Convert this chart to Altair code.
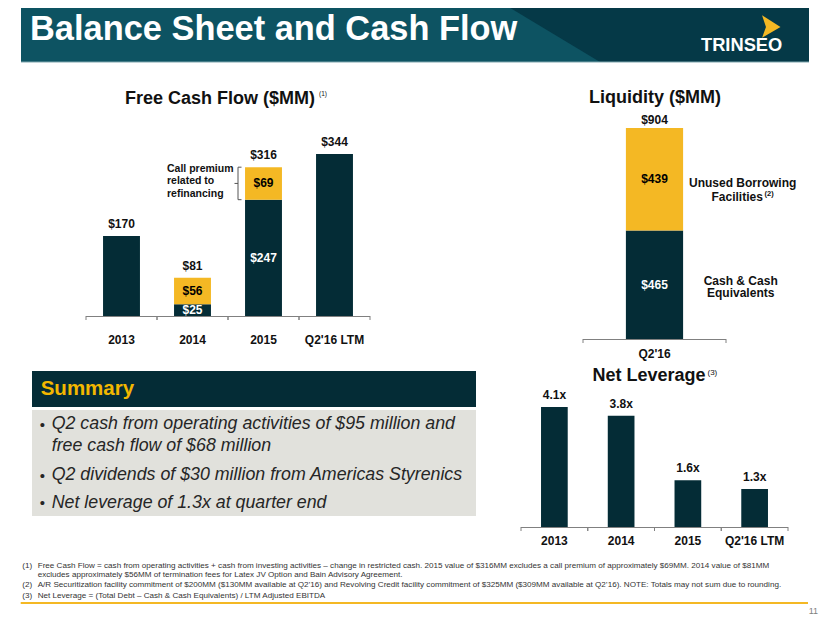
import altair as alt
import pandas as pd

# ---------------- data ----------------
fcf_years = ["2013", "2014", "2015", "Q2'16 LTM"]
fcf_core = [170, 25, 247, 344]        # free cash flow as reported
fcf_excluded = [0, 56, 69, 0]         # 2014 termination fees, 2015 call premium

liq_period = ["Q2'16"]
liq_cash = [465]
liq_unused = [439]

lev_years = ["2013", "2014", "2015", "Q2'16 LTM"]
lev_values = [4.1, 3.8, 1.6, 1.3]

slide_title = "Balance Sheet and Cash Flow"
fcf_title = "Free Cash Flow ($MM)"
liq_title = "Liquidity ($MM)"
lev_title = "Net Leverage"
annot_lines = ["Call premium", "related to", "refinancing"]
unused_lines = ["Unused Borrowing", "Facilities"]
cash_lines = ["Cash & Cash", "Equivalents"]
summary_title = "Summary"
summary_bullets = [
    ["Q2 cash from operating activities of $95 million and", "free cash flow of $68 million"],
    ["Q2 dividends of $30 million from Americas Styrenics"],
    ["Net leverage of 1.3x at quarter end"],
]
footnote_nums = ["(1)", "(2)", "(3)"]
footnote_lines = [
    ["Free Cash Flow = cash from operating activities + cash from investing activities \u2013 change in restricted cash. 2015 value of $316MM excludes a call premium of approximately $69MM.  2014 value of $81MM",
     "excludes approximately $56MM of termination fees for Latex JV Option and Bain Advisory Agreement."],
    ["A/R Securitization facility commitment of $200MM ($130MM available at Q2\u201916) and Revolving Credit facility commitment of $325MM ($309MM available at Q2\u201916).  NOTE:  Totals may not sum due to rounding."],
    ["Net Leverage = (Total Debt \u2013 Cash & Cash Equivalents) / LTM Adjusted EBITDA"],
]
page_number = "11"

# ---------------- style ----------------
W, H = 814, 607
FONT = "Liberation Sans"
INK = "#111111"
DARK = "#042c36"
GOLD = "#f4b824"
AXIS = "#808080"
BANNER_LIGHT = "#0d5362"
BANNER_DARK = "#053947"


def P(v):
    """page pixel -> chart pixel (page has an 8px margin)"""
    return v - 8


ONE = pd.DataFrame({"k": [0]})


def deco():
    return alt.Chart(ONE)


def rect(x1, x2, y1, y2, color):
    return deco().mark_rect(color=color).encode(
        x=alt.value(P(x1)), x2=alt.value(P(x2)), y=alt.value(P(y1)), y2=alt.value(P(y2)))


def rule(x1, x2, y1, y2, color, w=1):
    return deco().mark_rule(color=color, strokeWidth=w).encode(
        x=alt.value(P(x1)), x2=alt.value(P(x2)), y=alt.value(P(y1)), y2=alt.value(P(y2)))


def label(text, x, y, size=12, weight="bold", align="center", color=INK, style="normal", lh=None):
    kw = dict(text=text, font=FONT, fontSize=size, fontWeight=weight, align=align,
              baseline="middle", color=color, fontStyle=style)
    if lh:
        kw["lineHeight"] = lh
    return deco().mark_text(**kw).encode(x=alt.value(P(x)), y=alt.value(P(y)))


TXT = dict(font=FONT, fontSize=12, fontWeight="bold", color=INK, baseline="middle", align="center")

layers = []

# ---------------- banner ----------------
layers.append(rect(21, 809, 0, 62, BANNER_DARK))
layers.append(rect(21, 497, 0, 62, BANNER_LIGHT))
layers.append(deco().mark_point(shape="M0,-1 L3.323,1 L0,1 Z", filled=True, size=3844,
                                fill=BANNER_LIGHT, opacity=1, strokeWidth=0).encode(
    x=alt.value(P(497)), y=alt.value(P(31))))
layers.append(rule(21, 809, 62, 62, "#7fa6ae", 1))
layers.append(label(slide_title, 30, 29.8, size=34.4, align="left", color="white"))
layers.append(label("TRINSEO", 701, 46.2, size=18.3, align="left", color="white"))
layers.append(deco().mark_point(shape="M-0.8,-1 L0.85,0.05 L-0.8,1 L-0.45,0.05 Z", filled=True,
                                size=500, fill=GOLD, opacity=1, strokeWidth=0).encode(
    x=alt.value(P(771)), y=alt.value(P(26.5))))

# ---------------- Free cash flow ----------------
rows = []
for yr, c, e in zip(fcf_years, fcf_core, fcf_excluded):
    rows.append({"year": yr, "seg": "core", "order": 0, "value": c})
    if e:
        rows.append({"year": yr, "seg": "excluded", "order": 1, "value": e})
fcf_df = pd.DataFrame(rows)
fcf_years_df = pd.DataFrame({"year": fcf_years})

fcf_x = alt.Scale(type="band", domain=fcf_years, range=[P(86), P(370)], paddingInner=0, paddingOuter=0)
fcf_y = alt.Scale(type="linear", domain=[0, 344], range=[P(316), P(154)], nice=False, zero=True)
fx = alt.X("year:N", scale=fcf_x, axis=None)

fcf = (alt.Chart(fcf_df)
       .transform_stack(stack="value", groupby=["year"], as_=["v0", "v1"],
                        sort=[alt.SortField("order", "ascending")])
       .transform_joinaggregate(nseg="count()", groupby=["year"])
       .transform_calculate(mid="(datum.v0 + datum.v1) / 2", label="'$' + datum.value"))

layers.append(fcf.mark_bar(width=alt.RelativeBandSize(0.52)).encode(
    x=fx, y=alt.Y("v1:Q", scale=fcf_y, axis=None), y2="v0:Q",
    color=alt.Color("seg:N", scale=alt.Scale(domain=["core", "excluded"], range=[DARK, GOLD]), legend=None)))
layers.append(fcf.transform_filter("datum.nseg > 1").mark_text(**TXT).encode(
    x=fx, y=alt.Y("mid:Q", scale=fcf_y, axis=None), text="label:N",
    color=alt.Color("seg:N", scale=alt.Scale(domain=["core", "excluded"], range=["#ffffff", "#000000"]), legend=None)))
layers.append(alt.Chart(fcf_df).transform_aggregate(total="sum(value)", groupby=["year"])
              .transform_calculate(label="'$' + datum.total")
              .mark_text(dy=-12, **TXT).encode(
    x=fx, y=alt.Y("total:Q", scale=fcf_y, axis=None), text="label:N"))
layers.append(alt.Chart(fcf_years_df).mark_rect(color=AXIS).encode(
    x=fx, y=alt.value(P(316)), y2=alt.value(P(317))))
for bp in (0, 1):
    layers.append(alt.Chart(fcf_years_df).mark_rule(color=AXIS).encode(
        x=alt.X("year:N", scale=fcf_x, axis=None, bandPosition=bp),
        y=alt.value(P(316)), y2=alt.value(P(320))))
layers.append(alt.Chart(fcf_years_df).mark_text(**TXT).encode(
    x=fx, y=alt.value(P(340)), text="year:N"))
# bracket around the call premium
prem = fcf.transform_filter("datum.year == '2015' && datum.seg == 'excluded'")
BR = "#555555"
layers.append(prem.mark_rule(color=BR).encode(
    x=alt.value(P(238)), y=alt.Y("v1:Q", scale=fcf_y, axis=None), y2="v0:Q"))
for fld in ("v0", "v1"):
    layers.append(prem.mark_rule(color=BR).encode(
        x=alt.value(P(238)), x2=alt.value(P(241.5)), y=alt.Y(f"{fld}:Q", scale=fcf_y, axis=None)))
layers.append(prem.mark_rule(color=BR).encode(
    x=alt.value(P(234.5)), x2=alt.value(P(238)), y=alt.Y("mid:Q", scale=fcf_y, axis=None)))
layers.append(label(annot_lines, 167, 169, size=10.5, align="left", lh=12.3))
layers.append(label(fcf_title, 220, 99, size=18))
layers.append(label("(1)", 323, 94, size=6.5, weight="normal"))

# ---------------- Liquidity ----------------
liq_df = pd.DataFrame({
    "period": liq_period * 2,
    "seg": ["cash", "unused"],
    "order": [0, 1],
    "value": [liq_cash[0], liq_unused[0]],
})
liq_x = alt.Scale(type="band", domain=liq_period, range=[P(583), P(726)], paddingInner=0, paddingOuter=0)
liq_y = alt.Scale(type="linear", domain=[0, 904], range=[P(339), P(128)], nice=False, zero=True)
lx = alt.X("period:N", scale=liq_x, axis=None)
liq = (alt.Chart(liq_df)
       .transform_stack(stack="value", groupby=["period"], as_=["v0", "v1"],
                        sort=[alt.SortField("order", "ascending")])
       .transform_calculate(mid="(datum.v0 + datum.v1) / 2", label="'$' + datum.value"))
layers.append(liq.mark_bar(width=alt.RelativeBandSize(0.4)).encode(
    x=lx, y=alt.Y("v1:Q", scale=liq_y, axis=None), y2="v0:Q",
    color=alt.Color("seg:N", scale=alt.Scale(domain=["cash", "unused"], range=[DARK, GOLD]), legend=None)))
layers.append(liq.mark_text(**TXT).encode(
    x=lx, y=alt.Y("mid:Q", scale=liq_y, axis=None), text="label:N",
    color=alt.Color("seg:N", scale=alt.Scale(domain=["cash", "unused"], range=["#ffffff", "#000000"]), legend=None)))
layers.append(alt.Chart(liq_df).transform_aggregate(total="sum(value)", groupby=["period"])
              .transform_calculate(label="'$' + datum.total")
              .mark_text(dy=-8, **TXT).encode(
    x=lx, y=alt.Y("total:Q", scale=liq_y, axis=None), text="label:N"))
liq_p_df = pd.DataFrame({"period": liq_period})
layers.append(alt.Chart(liq_p_df).mark_rect(color=AXIS).encode(
    x=lx, y=alt.value(P(339)), y2=alt.value(P(340))))
for bp in (0, 1):
    layers.append(alt.Chart(liq_p_df).mark_rule(color=AXIS).encode(
        x=alt.X("period:N", scale=liq_x, axis=None, bandPosition=bp),
        y=alt.value(P(339)), y2=alt.value(P(343))))
layers.append(alt.Chart(liq_p_df).mark_text(**TXT).encode(
    x=lx, y=alt.value(P(354)), text="period:N"))
layers.append(label(liq_title, 655, 98, size=18))
layers.append(label(unused_lines[0], 742.7, 183.3, size=12))
layers.append(label(unused_lines[1], 711.5, 196.7, size=12, align="left"))
layers.append(label("(2)", 764.5, 194.3, size=7.5, align="left"))
layers.append(label(cash_lines, 740.7, 280.7, size=12, lh=12.7))

# ---------------- Net leverage ----------------
lev_df = pd.DataFrame({"year": lev_years, "value": lev_values})
lev_x = alt.Scale(type="band", domain=lev_years, range=[P(521), P(788)], paddingInner=0, paddingOuter=0)
lev_y = alt.Scale(type="linear", domain=[0, 4.1], range=[P(527), P(407)], nice=False, zero=True)
vx = alt.X("year:N", scale=lev_x, axis=None)
lev = alt.Chart(lev_df).transform_calculate(label="format(datum.value, '.1f') + 'x'")
layers.append(lev.mark_bar(width=alt.RelativeBandSize(0.4), color=DARK).encode(
    x=vx, y=alt.Y("value:Q", scale=lev_y, axis=None)))
layers.append(lev.mark_text(dy=-12, **TXT).encode(
    x=vx, y=alt.Y("value:Q", scale=lev_y, axis=None), text="label:N"))
layers.append(alt.Chart(lev_df).mark_rect(color=AXIS).encode(
    x=vx, y=alt.value(P(527)), y2=alt.value(P(528))))
for bp in (0, 1):
    layers.append(alt.Chart(lev_df).mark_rule(color=AXIS).encode(
        x=alt.X("year:N", scale=lev_x, axis=None, bandPosition=bp),
        y=alt.value(P(527)), y2=alt.value(P(531))))
layers.append(alt.Chart(lev_df).mark_text(**TXT).encode(
    x=vx, y=alt.value(P(541)), text="year:N"))
layers.append(label(lev_title, 649, 376, size=18))
layers.append(label("(3)", 707.5, 373, size=8, weight="normal", align="left"))

# ---------------- Summary box ----------------
layers.append(rect(32, 476, 371, 407, DARK))
layers.append(rect(32, 476, 410, 516, "#e1e1dc"))
layers.append(label(summary_title, 40.7, 389, size=20.5, align="left", color="#f2b700"))
SUM_C = "#262626"
bullet_y = [424, 475, 502.7]
for lines, by in zip(summary_bullets, bullet_y):
    layers.append(label("\u2022", 39.8, by + 0.5, size=15, weight="normal", align="left", color=SUM_C))
    layers.append(label(lines, 51.7, by, size=17.8, weight="normal", align="left",
                        color=SUM_C, style="italic", lh=22))

# ---------------- footnotes ----------------
FN_C = "#333333"
fn_y = [[565.7, 575], [585], [595.7]]
for num, lines, ys in zip(footnote_nums, footnote_lines, fn_y):
    layers.append(label(num, 22.3, ys[0], size=8.1, weight="normal", align="left", color=FN_C))
    for ln, yy in zip(lines, ys):
        layers.append(label(ln, 37.7, yy, size=8.1, weight="normal", align="left", color=FN_C))
layers.append(rule(20.7, 808, 603, 603, GOLD, 2))
layers.append(label(page_number, 818, 611, size=9, weight="normal", align="right", color="#7f7f7f"))

chart = (alt.layer(*layers)
         .resolve_scale(x="independent", y="independent", color="independent")
         .properties(width=W, height=H, padding=0, background="white",
                     autosize=alt.AutoSizeParams(type="none"))
         .configure_view(stroke=None))

chart.save("out.html", embed_options={"renderer": "svg", "actions": False})
